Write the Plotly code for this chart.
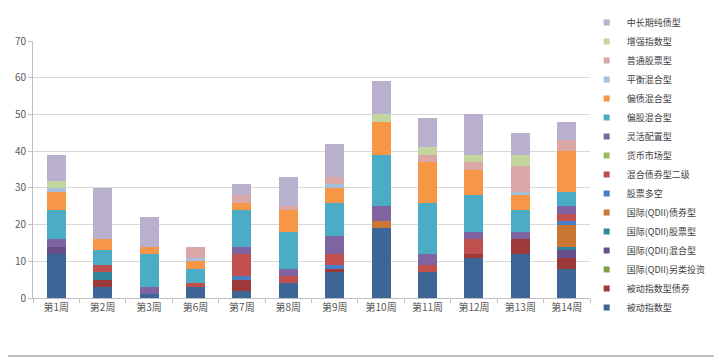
import plotly.graph_objects as go

weeks = ["第1周", "第2周", "第3周", "第6周", "第7周", "第8周", "第9周", "第10周", "第11周", "第12周", "第13周", "第14周"]

# stack order: bottom -> top
beidong_zhishu = [12, 3, 1, 3, 2, 4, 7, 19, 7, 11, 12, 8]
beidong_zhishu_zhaiquan = [0, 2, 0, 0, 3, 0, 1, 0, 0, 1, 4, 3]
qdii_linglei = [0, 0, 0, 0, 0, 0, 0, 0, 0, 0, 0, 0]
qdii_hunhe = [2, 0, 0, 0, 0, 0, 0, 0, 0, 0, 0, 2]
qdii_gupiao = [0, 2, 0, 0, 0, 0, 0, 0, 0, 0, 0, 1]
qdii_zhaiquan = [0, 0, 0, 0, 0, 0, 0, 2, 0, 0, 0, 6]
gupiao_duokong = [0, 0, 0, 0, 1, 0, 1, 0, 0, 0, 0, 1]
hunhe_zhaiquan_erji = [0, 2, 0, 1, 6, 2, 3, 0, 2, 4, 0, 2]
huobi_shichang = [0, 0, 0, 0, 0, 0, 0, 0, 0, 0, 0, 0]
linghuo_peizhi = [2, 0, 2, 0, 2, 2, 5, 4, 3, 2, 2, 2]
piangu_hunhe = [8, 4, 9, 4, 10, 10, 9, 14, 14, 10, 6, 4]
pianzhai_hunhe = [5, 3, 2, 2, 2, 6, 4, 9, 11, 7, 4, 11]
pingheng_hunhe = [1, 0, 0, 1, 0, 0, 1, 0, 0, 0, 1, 0]
putong_gupiao = [0, 0, 0, 3, 2, 1, 2, 0, 2, 2, 7, 3]
zengqiang_zhishu = [2, 0, 0, 0, 0, 0, 0, 2, 2, 2, 3, 0]
zhongchangqi_chunzhai = [7, 14, 8, 0, 3, 8, 9, 9, 8, 11, 6, 5]

series = [
    ("被动指数型", beidong_zhishu, "#3D6697"),
    ("被动指数型债券", beidong_zhishu_zhaiquan, "#9B3A38"),
    ("国际(QDII)另类投资", qdii_linglei, "#7F9F45"),
    ("国际(QDII)混合型", qdii_hunhe, "#67508A"),
    ("国际(QDII)股票型", qdii_gupiao, "#31879C"),
    ("国际(QDII)债券型", qdii_zhaiquan, "#CB7733"),
    ("股票多空", gupiao_duokong, "#4A7EC6"),
    ("混合债券型二级", hunhe_zhaiquan_erji, "#C0504D"),
    ("货币市场型", huobi_shichang, "#9BBB59"),
    ("灵活配置型", linghuo_peizhi, "#8064A2"),
    ("偏股混合型", piangu_hunhe, "#4BACC6"),
    ("偏债混合型", pianzhai_hunhe, "#F79646"),
    ("平衡混合型", pingheng_hunhe, "#A6BDDC"),
    ("普通股票型", putong_gupiao, "#D9A7A6"),
    ("增强指数型", zengqiang_zhishu, "#C4D6A0"),
    ("中长期纯债型", zhongchangqi_chunzhai, "#B9B0CD"),
]

fig = go.Figure()
for name, vals, color in series:
    fig.add_trace(go.Bar(x=weeks, y=vals, name=name, marker=dict(color=color, line=dict(width=0)),
                         legendgroup=name, showlegend=False))

# legend entries (small square markers), top to bottom
for name, vals, color in reversed(series):
    fig.add_trace(go.Scatter(x=[None], y=[None], mode="markers", name=name, legendgroup=name,
                             marker=dict(symbol="square", size=6, color=color)))

font_main = "Noto Sans CJK SC, Noto Sans, sans-serif"
fig.update_layout(
    width=722, height=363,
    margin=dict(l=25, r=140, t=33, b=73, autoexpand=False),
    barmode="stack",
    bargap=0.59,
    plot_bgcolor="white",
    paper_bgcolor="white",
    font=dict(family=font_main, size=10, color="#595959"),
    showlegend=True,
    legend=dict(x=0.994, y=1.128, xanchor="left", yanchor="top", traceorder="normal",
                font=dict(size=9, color="#404040"), bgcolor="rgba(0,0,0,0)", itemwidth=30,
                maxheight=345),
    xaxis=dict(type="category", showgrid=False, showline=True, linecolor="#BFBFBF", linewidth=1,
               ticks="outside", tickson="boundaries", ticklen=4, tickcolor="#BFBFBF",
               tickfont=dict(size=10, color="#595959")),
    yaxis=dict(range=[0, 70], dtick=10, showgrid=True, gridcolor="#D9D9D9", gridwidth=1,
               showline=True, linecolor="#BFBFBF", linewidth=1, ticks="outside", ticklen=4,
               tickcolor="#BFBFBF", zeroline=False, tickfont=dict(size=10, color="#595959")),
    shapes=[dict(type="line", xref="paper", yref="paper", x0=-0.05, x1=1.224, y0=-0.2257, y1=-0.2257,
                 line=dict(color="#BFBFBF", width=2))],
)

fig.write_html("out.html")
